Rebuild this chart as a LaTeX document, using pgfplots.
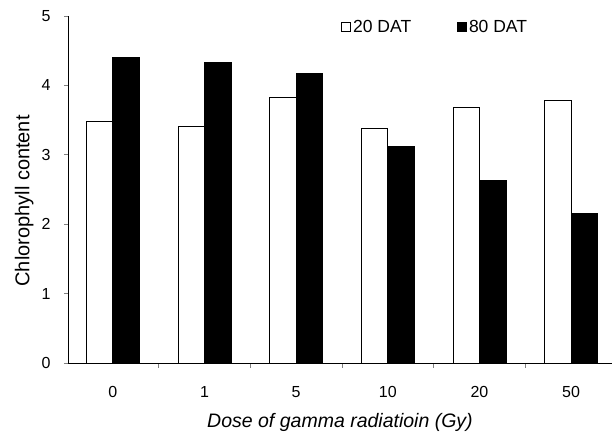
\documentclass[border=0pt]{standalone}
\usepackage{pgfplots}
\pgfplotsset{compat=1.18}
\usepackage{fontspec}
\setmainfont{Liberation Sans}

\begin{document}
\begin{tikzpicture}
\begin{axis}[
    scale only axis,
    width=544pt, height=347pt,
    ybar=0pt,
    bar width=26.5pt,
    xmin=-0.49, xmax=5.447,
    ymin=0, ymax=5,
    axis lines*=left,
    axis line style={line width=0.8pt},
    font=\fontsize{16}{19}\selectfont,
    /pgf/number format/assume math mode=true,
    xtick={0,1,2,3,4,5},
    xticklabels={0,1,5,10,20,50},
    minor x tick num=1,
    major x tick style={draw=none},
    minor x tick style={line width=0.8pt},
    minor tick length=5pt,
    ytick={0,1,2,3,4,5},
    major tick length=4pt,
    ytick style={xshift=-4pt, line width=0.8pt},
    yticklabel style={xshift=-14pt},
    xticklabel style={yshift=-16pt},
    xlabel={Dose of gamma radiatioin (Gy)},
    ylabel={Chlorophyll content},
    xlabel style={font=\fontsize{19.5}{23}\selectfont\itshape, at={(axis description cs:0.5,-0.135)}, anchor=north},
    ylabel style={font=\fontsize{20}{24}\selectfont, at={(axis description cs:-0.057,0.467)}, anchor=south},
    legend columns=2,
    legend style={draw=none, fill=none, at={(axis description cs:0.675,0.968)}, anchor=center,
        font=\fontsize{17.5}{21}\selectfont,
        /tikz/every even column/.append style={column sep=44pt},
        nodes={inner xsep=2pt}},
    legend image code/.code={\draw[#1, line width=0.8pt] (0pt,-4.5pt) rectangle (9pt,4.5pt);},
]
\addplot[draw=black, fill=white, line width=0.8pt] coordinates {(0,3.48) (1,3.41) (2,3.83) (3,3.38) (4,3.68) (5,3.78)};
\addplot[draw=black, fill=black, line width=0.8pt] coordinates {(0,4.40) (1,4.33) (2,4.17) (3,3.12) (4,2.63) (5,2.16)};
\legend{20 DAT, 80 DAT}
\end{axis}
\pgfresetboundingbox
\path (-68pt,-75pt) rectangle (546pt,363pt);
\end{tikzpicture}
\end{document}
